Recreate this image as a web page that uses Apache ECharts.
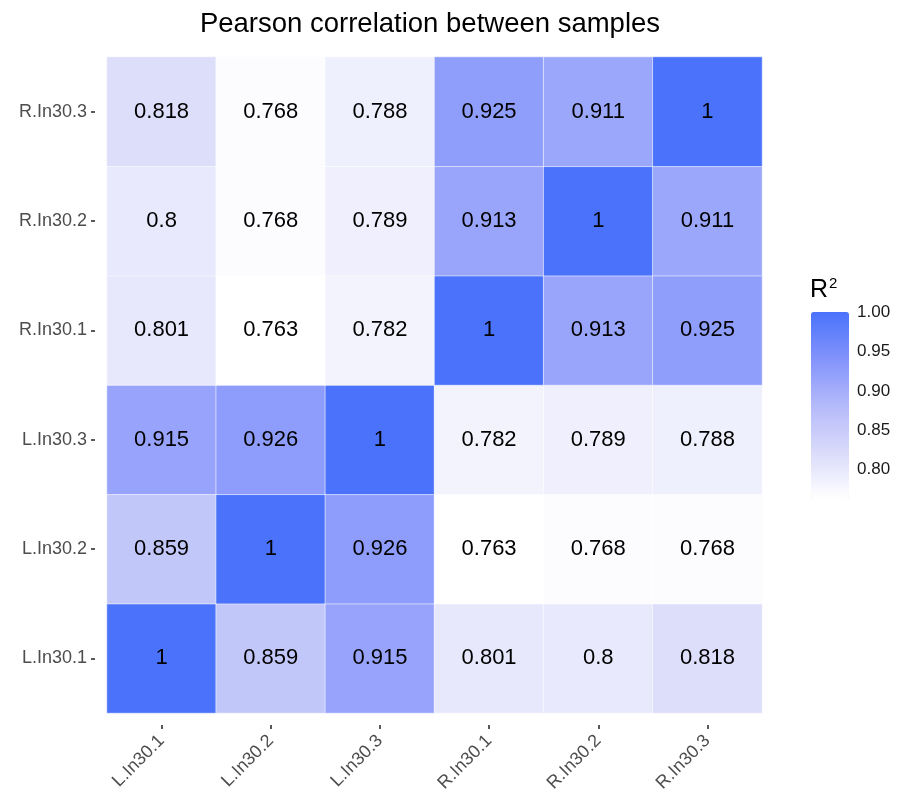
<!DOCTYPE html>
<html>
<head>
<meta charset="utf-8">
<script src="https://cdn.jsdelivr.net/npm/echarts@6/dist/echarts.min.js"></script>
<style>
html,body{margin:0;padding:0;background:#fff;}
#chart{width:901px;height:801px;}
</style>
</head>
<body>
<div id="chart"></div>
<script>
var samples = ['L.In30.1', 'L.In30.2', 'L.In30.3', 'R.In30.1', 'R.In30.2', 'R.In30.3'];
// rows listed bottom (L.In30.1) to top (R.In30.3); columns in samples order
var rowLIn301 = [1, 0.859, 0.915, 0.801, 0.8, 0.818];
var rowLIn302 = [0.859, 1, 0.926, 0.763, 0.768, 0.768];
var rowLIn303 = [0.915, 0.926, 1, 0.782, 0.789, 0.788];
var rowRIn301 = [0.801, 0.763, 0.782, 1, 0.913, 0.925];
var rowRIn302 = [0.8, 0.768, 0.789, 0.913, 1, 0.911];
var rowRIn303 = [0.818, 0.768, 0.788, 0.925, 0.911, 1];
var legendTicks = [0.8, 0.85, 0.9, 0.95, 1.0];
var colorMin = 0.763, colorMax = 1;

var rows = [rowLIn301, rowLIn302, rowLIn303, rowRIn301, rowRIn302, rowRIn303];
var data = [];
rows.forEach(function (r, yi) {
  r.forEach(function (v, xi) { data.push([xi, yi, v]); });
});

var FONT = 'Liberation Sans, Arial, Helvetica, sans-serif';
var chart = echarts.init(document.getElementById('chart'), null, {renderer: 'canvas'});
chart.setOption({
  backgroundColor: '#ffffff',
  animation: false,
  textStyle: {fontFamily: FONT},
  title: [{
    text: 'Pearson correlation between samples',
    left: 425, top: 5, textAlign: 'center',
    textStyle: {fontSize: 27.5, fontWeight: 'normal', color: '#000', fontFamily: FONT}
  }, {
    text: '{a|R}{b|2}',
    left: 810, top: 276, padding: 0,
    textStyle: {
      fontWeight: 'normal',
      rich: {
        a: {fontSize: 25, fontWeight: 'normal', color: '#000', fontFamily: FONT, verticalAlign: 'bottom'},
        b: {fontSize: 15, fontWeight: 'normal', color: '#000', fontFamily: FONT, verticalAlign: 'top', padding: [0, 0, 12, 1]}
      }
    }
  }],
  grid: [
    {left: 107, right: 139, top: 57, bottom: 88},
    {left: 811, top: 312, width: 38, height: 187}
  ],
  xAxis: [{
    type: 'category', data: samples, gridIndex: 0, offset: 12,
    axisLine: {show: false},
    axisTick: {show: true, length: 4, alignWithLabel: true, lineStyle: {color: '#222', width: 1.5}},
    axisLabel: {rotate: 45, fontSize: 18, color: '#4d4d4d', margin: 13, fontFamily: FONT},
    splitLine: {show: false}
  }, {
    type: 'value', gridIndex: 1, show: false, min: 0, max: 1
  }],
  yAxis: [{
    type: 'category', data: samples, gridIndex: 0, offset: 12,
    axisLine: {show: false},
    axisTick: {show: true, length: 4, alignWithLabel: true, lineStyle: {color: '#222', width: 1.5}},
    axisLabel: {fontSize: 18, color: '#4d4d4d', margin: 8, fontFamily: FONT},
    splitLine: {show: false}
  }, {
    type: 'value', gridIndex: 1, position: 'right', min: colorMin, max: colorMax,
    axisLine: {show: false},
    axisTick: {show: true, inside: true, length: 7, customValues: legendTicks, lineStyle: {color: '#fff', width: 1}},
    axisLabel: {
      show: true, fontSize: 17, color: '#1a1a1a', margin: 8, fontFamily: FONT,
      customValues: legendTicks,
      formatter: function (v) { return Number(v).toFixed(2); }
    },
    splitLine: {show: false}
  }, {
    type: 'value', gridIndex: 1, position: 'left', min: colorMin, max: colorMax,
    axisLine: {show: false},
    axisTick: {show: true, inside: true, length: 7, customValues: legendTicks, lineStyle: {color: '#fff', width: 1}},
    axisLabel: {show: false},
    splitLine: {show: false}
  }],
  visualMap: {
    type: 'continuous', min: colorMin, max: colorMax, seriesIndex: 0,
    calculable: false, hoverLink: false, orient: 'vertical',
    left: 811, top: 312, itemWidth: 38, itemHeight: 187, padding: 0,
    text: null, showLabel: false,
    inRange: {color: ['#ffffff', '#dadbfa', '#b4bafa', '#8293fb', '#4a72fb']}
  },
  series: [{
    type: 'heatmap', xAxisIndex: 0, yAxisIndex: 0, data: data,
    itemStyle: {borderColor: 'rgba(255,255,255,0.55)', borderWidth: 1},
    label: {
      show: true, fontSize: 22, color: '#000', fontFamily: FONT,
      formatter: function (p) { return String(p.value[2]); }
    },
    emphasis: {disabled: true}
  }]
});
</script>
</body>
</html>
